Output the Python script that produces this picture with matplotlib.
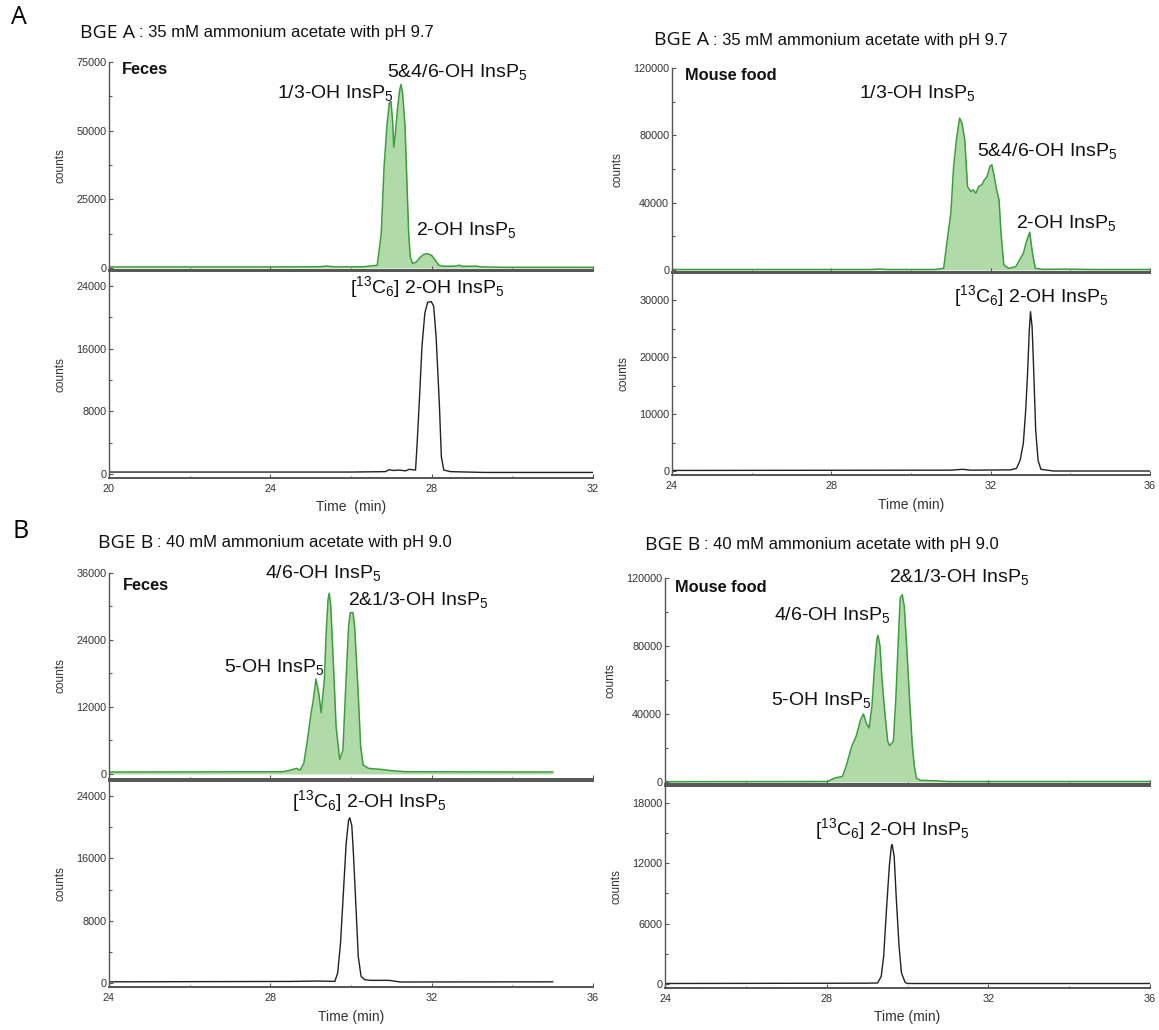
import matplotlib
matplotlib.use("Agg")
import matplotlib.pyplot as plt
from matplotlib.ticker import MultipleLocator

plt.rcParams['font.family'] = ['Liberation Sans', 'DejaVu Sans']
plt.rcParams['mathtext.fontset'] = 'custom'
plt.rcParams['mathtext.rm'] = 'Liberation Sans'
plt.rcParams['mathtext.it'] = 'Liberation Sans:italic'
plt.rcParams['mathtext.bf'] = 'Liberation Sans:bold'

# ---------------- data (time in min, counts) ----------------
# A, Feces, analytes (green)
a_fec_t = [20.0, 22.0, 24.0, 25.2, 25.4, 25.6, 26.3, 26.65, 26.75, 26.82, 26.89, 26.95, 26.99, 27.03,
           27.06, 27.10, 27.15, 27.21, 27.24, 27.28, 27.34, 27.39, 27.43, 27.47, 27.53, 27.62, 27.71,
           27.81, 27.90, 28.00, 28.09, 28.18, 28.31, 28.59, 28.68, 28.77, 29.10, 29.24, 29.79, 32.0]
a_fec_v = [400, 400, 400, 450, 700, 400, 450, 1000, 12600, 36800, 51600, 60100, 60700, 54000,
           44000, 49000, 57600, 65000, 66800, 63700, 51600, 29600, 12600, 4000, 1600, 2200, 3800,
           5000, 5200, 4600, 2800, 1000, 600, 700, 1000, 600, 700, 400, 250, 250]
# A, Feces, internal standard (black)
a_fec_is_t = [20.0, 26.0, 26.85, 26.95, 27.05, 27.2, 27.35, 27.45, 27.60, 27.64, 27.70, 27.76, 27.83,
              27.90, 27.99, 28.05, 28.11, 28.19, 28.24, 28.30, 28.47, 29.3, 32.0]
a_fec_is_v = [250, 250, 300, 550, 450, 500, 400, 600, 500, 3900, 9900, 16300, 20500,
              21900, 22000, 21400, 17500, 9000, 2200, 500, 300, 200, 200]
# A, Mouse food, analytes
a_food_t = [24.0, 29.0, 29.2, 29.4, 30.6, 30.82, 30.91, 31.00, 31.07, 31.14, 31.22, 31.28, 31.35,
            31.42, 31.50, 31.56, 31.63, 31.70, 31.78, 31.84, 31.91, 31.98, 32.03, 32.09, 32.15,
            32.21, 32.26, 32.33, 32.45, 32.63, 32.82, 32.91, 32.98, 33.05, 33.12, 33.3, 34.0, 34.5, 36.0]
a_food_v = [300, 300, 600, 300, 300, 1000, 17800, 33700, 61500, 77300, 90200, 87300, 77300,
            49600, 46600, 47600, 45600, 49600, 50600, 53500, 55500, 61500, 62500, 55500, 47600,
            41600, 21800, 3000, 1000, 2000, 9900, 17800, 22400, 9900, 1000, 400, 500, 300, 300]
# A, Mouse food, internal standard
a_food_is_t = [24.0, 31.0, 31.3, 31.5, 32.5, 32.65, 32.74, 32.82, 32.88, 32.93, 32.97, 33.00, 33.04,
               33.08, 33.13, 33.19, 33.26, 33.58, 36.0]
a_food_is_v = [100, 150, 300, 150, 200, 470, 1900, 4850, 10700, 17700, 24700, 27950, 25300,
               17700, 7200, 1900, 300, 0, 0]
# B, Feces, analytes
b_fec_t = [24.0, 28.3, 28.45, 28.65, 28.74, 28.83, 28.92, 29.01, 29.06, 29.13, 29.20, 29.26, 29.34,
           29.38, 29.43, 29.46, 29.50, 29.57, 29.63, 29.72, 29.80, 29.87, 29.94, 29.98, 30.05, 30.09,
           30.17, 30.24, 30.30, 30.44, 30.72, 31.0, 31.36, 35.0]
b_fec_v = [350, 400, 600, 1000, 700, 1900, 6100, 10900, 13000, 17000, 14500, 11000, 16900,
           24600, 31200, 32400, 30000, 18700, 8500, 2600, 4300, 15700, 26400, 28900, 28900, 26400,
           15700, 4900, 1600, 1000, 840, 600, 400, 350]
# B, Feces, internal standard
b_fec_is_t = [24.0, 28.5, 29.2, 29.6, 29.67, 29.74, 29.82, 29.88, 29.94, 29.97, 30.02, 30.06, 30.13,
              30.18, 30.25, 30.34, 30.48, 30.94, 31.22, 35.0]
b_fec_is_v = [150, 200, 250, 210, 1300, 5100, 12400, 17900, 20900, 21200, 20200, 16600, 9000,
              3400, 850, 430, 340, 340, 130, 150]
# B, Mouse food, analytes
b_food_t = [24.0, 28.02, 28.20, 28.39, 28.48, 28.62, 28.73, 28.84, 28.91, 28.98, 29.05, 29.12, 29.18,
            29.24, 29.27, 29.32, 29.37, 29.44, 29.51, 29.56, 29.65, 29.71, 29.78, 29.82, 29.87, 29.92,
            29.99, 30.06, 30.12, 30.17, 30.22, 30.31, 30.6, 31.0, 36.0]
b_food_v = [200, 300, 2350, 3300, 9200, 21000, 26900, 36700, 40000, 34700, 31800, 44500, 66100,
            83700, 86300, 79800, 60200, 40600, 23900, 21400, 23900, 48400, 87600, 108200, 110200, 103300,
            75900, 44500, 21000, 9200, 2350, 1000, 800, 300, 300]
# B, Mouse food, internal standard
b_food_is_t = [24.0, 29.0, 29.26, 29.35, 29.41, 29.48, 29.55, 29.60, 29.62, 29.67, 29.72, 29.79,
               29.85, 29.94, 29.99, 36.0]
b_food_is_v = [50, 80, 100, 760, 2750, 7400, 11700, 13700, 13860, 12700, 8700, 3800,
               1100, 170, 50, 50]

# axis tick values
a_fec_yticks = [0, 25000, 50000, 75000]
a_fec_is_yticks = [0, 8000, 16000, 24000]
a_food_yticks = [0, 40000, 80000, 120000]
a_food_is_yticks = [0, 10000, 20000, 30000]
b_fec_yticks = [0, 12000, 24000, 36000]
b_fec_is_yticks = [0, 8000, 16000, 24000]
b_food_yticks = [0, 40000, 80000, 120000]
b_food_is_yticks = [0, 6000, 12000, 18000]
a_left_xticks = [20, 24, 28, 32]
other_xticks = [24, 28, 32, 36]

# ---------------- figure ----------------
W, H = 1159, 1030
fig = plt.figure(figsize=(W / 100, H / 100), dpi=100)

GREEN_LINE = '#3d9c3d'
GREEN_FILL = '#b0daa8'
SPINE = '#555555'
TICKC = '#333333'


def add_ax(x0, x1, y0, y1):
    return fig.add_axes([x0 / W, 1 - y1 / H, (x1 - x0) / W, (y1 - y0) / H])


def style(ax, xlim, ylim, yticks, ymin_step, xticks, top_panel, xlabel='Time (min)'):
    ax.set_xlim(*xlim)
    ax.set_ylim(*ylim)
    ax.set_yticks(yticks)
    ax.yaxis.set_minor_locator(MultipleLocator(ymin_step))
    ax.set_xticks(xticks)
    ax.xaxis.set_minor_locator(MultipleLocator(2))
    ax.tick_params(which='both', direction='in', colors=SPINE, labelcolor=TICKC, labelsize=7.8, width=0.8)
    ax.tick_params(which='major', length=3)
    ax.tick_params(which='minor', length=1.8)
    ax.tick_params(axis='y', pad=2)
    ax.set_ylabel('counts', fontsize=8.5, color=TICKC, labelpad=7)
    ax.spines['right'].set_visible(False)
    for s in ['left', 'bottom', 'top']:
        ax.spines[s].set_color(SPINE)
        ax.spines[s].set_linewidth(1.4)
    ax.spines['left'].set_linewidth(1.0)
    if top_panel:
        ax.spines['top'].set_visible(False)
        ax.tick_params(axis='x', labelbottom=False)
    else:
        ax.tick_params(axis='x', pad=4)
        ax.set_xlabel(xlabel, fontsize=10, color=TICKC, labelpad=5)
    ax.patch.set_alpha(0)


def green(ax, t, v):
    ax.fill_between(t, v, 0, color=GREEN_FILL, lw=0)
    ax.plot(t, v, color=GREEN_LINE, lw=1.1)


def black(ax, t, v):
    ax.plot(t, v, color='#222222', lw=1.0)


# A left
ax = add_ax(109, 593, 62, 270)
green(ax, a_fec_t, a_fec_v)
style(ax, (20, 32), (-730, 75000), a_fec_yticks, 12500, a_left_xticks, True)
ax = add_ax(109, 593, 271, 478)
black(ax, a_fec_is_t, a_fec_is_v)
style(ax, (20, 32), (-510, 25900), a_fec_is_yticks, 4000, a_left_xticks, False, 'Time  (min)')

# A right
ax = add_ax(672, 1150, 68, 272)
green(ax, a_food_t, a_food_v)
style(ax, (24, 36), (-1200, 120000), a_food_yticks, 20000, other_xticks, True)
ax = add_ax(672, 1150, 273, 475)
black(ax, a_food_is_t, a_food_is_v)
style(ax, (24, 36), (-700, 34740), a_food_is_yticks, 5000, other_xticks, False)

# B left
ax = add_ax(109, 593, 573, 779)
green(ax, b_fec_t, b_fec_v)
style(ax, (24, 36), (-900, 36000), b_fec_yticks, 6000, other_xticks, True)
ax = add_ax(109, 593, 781, 987)
black(ax, b_fec_is_t, b_fec_is_v)
style(ax, (24, 36), (-513, 25925), b_fec_is_yticks, 4000, other_xticks, False)

# B right
ax = add_ax(665, 1150, 578, 784)
green(ax, b_food_t, b_food_v)
style(ax, (24, 36), (-1176, 120000), b_food_yticks, 20000, other_xticks, True)
ax = add_ax(665, 1150, 786, 988)
black(ax, b_food_is_t, b_food_is_v)
style(ax, (24, 36), (-398, 19690), b_food_is_yticks, 3000, other_xticks, False)


# ---------------- texts ----------------
def ftext(x, y, s, **kw):
    return fig.text(x / W, 1 - y / H, s, **kw)


P5 = r'InsP$_\mathregular{5}$'
IS = r'[$^\mathregular{13}$C$_\mathregular{6}$] 2-OH ' + P5
LAB = dict(fontsize=14, color='#111111', va='baseline', ha='left')

# panel letters
ftext(19, 18, 'A', fontsize=18, va='center', ha='center', family=['Open Sans', 'DejaVu Sans'])
ftext(21, 532, 'B', fontsize=18, va='center', ha='center', family=['Open Sans', 'DejaVu Sans'])

# titles
renderer = fig.canvas.get_renderer()


def title(x, y, head, rest):
    t1 = ftext(x, y, head, fontsize=14, va='center', ha='left', color='#111111',
               family=['Open Sans', 'DejaVu Sans'])
    bb = t1.get_window_extent(renderer)
    fig.text(bb.x1 / W + 4 / W, 1 - y / H, rest, fontsize=12, va='center', ha='left', color='#111111')


title(80, 33, 'BGE A', ': 35 mM ammonium acetate with pH 9.7')
title(654, 40, 'BGE A', ': 35 mM ammonium acetate with pH 9.7')
title(98, 543, 'BGE B', ': 40 mM ammonium acetate with pH 9.0')
title(645, 545, 'BGE B', ': 40 mM ammonium acetate with pH 9.0')

# sample names
SN = dict(fontsize=11.8, fontweight='bold', va='center', ha='left', color='#111111')
ftext(122, 69, 'Feces', **SN)
ftext(685, 76, 'Mouse food', **SN)
ftext(123, 586, 'Feces', **SN)
ftext(675, 588, 'Mouse food', **SN)

# peak labels A left
ftext(277, 98, '1/3-OH ' + P5, **LAB)
ftext(387, 77, '5&4/6-OH ' + P5, **LAB)
ftext(416, 235, '2-OH ' + P5, **LAB)
ftext(350, 293, IS, **LAB)
# A right
ftext(859, 98, '1/3-OH ' + P5, **LAB)
ftext(977, 156, '5&4/6-OH ' + P5, **LAB)
ftext(1016, 228, '2-OH ' + P5, **LAB)
ftext(954, 302, IS, **LAB)
# B left
ftext(265, 578, '4/6-OH ' + P5, **LAB)
ftext(348, 605, '2&1/3-OH ' + P5, **LAB)
ftext(224, 672, '5-OH ' + P5, **LAB)
ftext(292, 807, IS, **LAB)
# B right
ftext(889, 582, '2&1/3-OH ' + P5, **LAB)
ftext(774, 620, '4/6-OH ' + P5, **LAB)
ftext(771, 705, '5-OH ' + P5, **LAB)
ftext(815, 835, IS, **LAB)

fig.savefig('out.png', dpi=100)
